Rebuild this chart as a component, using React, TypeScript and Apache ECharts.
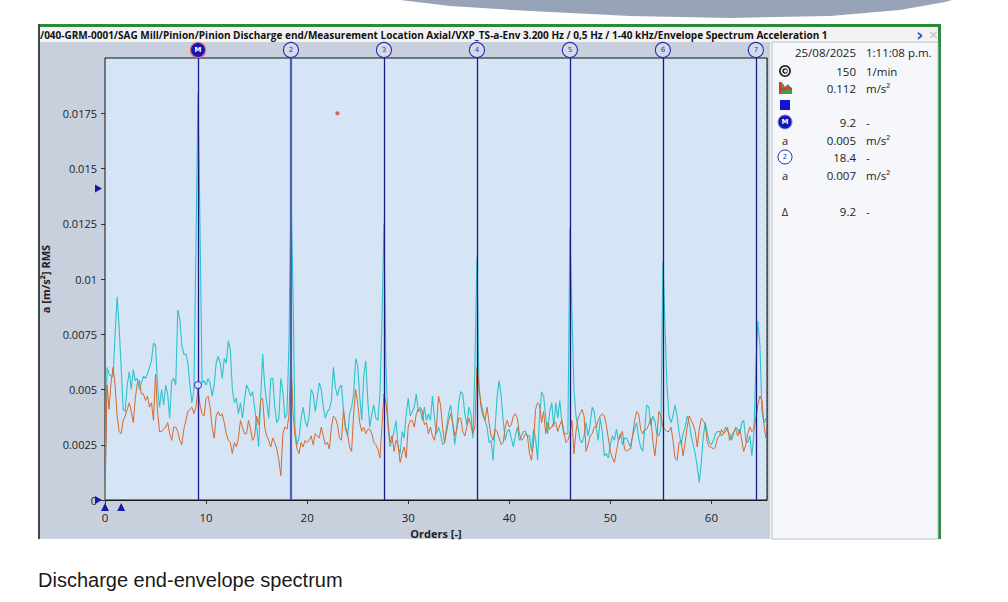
import React, { useEffect, useRef } from "react";
import * as echarts from "echarts";

const TITLE =
  "/040-GRM-0001/SAG Mill/Pinion/Pinion Discharge end/Measurement Location Axial/VXP_TS-a-Env 3.200 Hz / 0,5 Hz / 1-40 kHz/Envelope Spectrum Acceleration 1";
const CAPTION = "Discharge end-envelope spectrum";
const X_NAME = "Orders [-]";
const Y_NAME = "a [m/s²] RMS";

const ORDER_STEP = 0.2;
const X_MAX = 65.5;
const X_INTERVAL = 10;
const Y_MAX = 0.02;
const Y_INTERVAL = 0.0025;

// amplitudes in units of 1e-4 m/s², one value per 0.2 order
const cyanE4 = [
  0,
  60, 57, 56, 56, 75, 92, 78, 60, 41, 40,
  52, 58, 50, 59, 54, 55, 50, 53, 56, 55,
  57, 60, 63, 71, 70, 52, 42, 50, 43, 52,
  48, 37, 54, 55, 52, 86, 82, 70, 66, 66,
  62, 52, 44, 50, 115, 184, 125, 53, 54, 52,
  55, 53, 47, 52, 62, 65, 62, 55, 64, 62,
  72, 68, 50, 44, 46, 39, 44, 37, 45, 52,
  50, 47, 49, 42, 34, 24, 45, 66, 52, 44,
  37, 55, 55, 42, 35, 37, 55, 49, 37, 39,
  70, 141, 95, 32, 25, 28, 37, 42, 36, 33,
  38, 50, 48, 40, 46, 53, 50, 42, 37, 40,
  41, 45, 60, 51, 47, 51, 52, 40, 32, 29,
  39, 42, 48, 64, 61, 47, 36, 56, 63, 45,
  33, 39, 43, 37, 36, 48, 80, 125, 60, 34,
  24, 27, 31, 36, 24, 21, 31, 28, 39, 46,
  38, 40, 42, 48, 40, 41, 36, 42, 36, 39,
  36, 47, 37, 30, 33, 30, 25, 26, 33, 39,
  43, 35, 25, 32, 44, 49, 48, 39, 34, 42,
  39, 28, 60, 110, 50, 44, 40, 36, 33, 26,
  27, 18, 33, 47, 54, 47, 36, 27, 31, 32,
  28, 24, 29, 33, 27, 29, 31, 31, 29, 29,
  22, 32, 28, 18, 38, 49, 47, 38, 30, 40,
  44, 33, 44, 37, 45, 35, 30, 30, 30, 123,
  85, 50, 38, 33, 27, 26, 29, 35, 29, 34,
  42, 40, 33, 27, 37, 31, 20, 21, 19, 25,
  29, 27, 32, 27, 30, 25, 28, 28, 26, 24,
  29, 32, 35, 28, 24, 22, 32, 43, 42, 34,
  38, 36, 30, 29, 32, 108, 80, 52, 38, 35,
  38, 43, 38, 31, 25, 30, 33, 38, 35, 29,
  25, 21, 15, 8, 17, 29, 35, 30, 26, 25,
  27, 30, 31, 31, 29, 30, 33, 31, 30, 27,
  30, 33, 32, 30, 35, 36, 27, 26, 29, 20,
  30, 60, 81, 70, 40, 35, 37,
];

const orangeE4 = [
  0,
  52, 41, 53, 60, 52, 38, 31, 30, 36, 38,
  41, 44, 40, 35, 46, 53, 54, 48, 48, 45,
  47, 42, 44, 36, 57, 40, 31, 31, 32, 33,
  35, 30, 27, 33, 33, 31, 27, 25, 32, 36,
  40, 41, 42, 39, 42, 50, 43, 39, 38, 46,
  47, 42, 33, 28, 38, 40, 38, 39, 35, 30,
  27, 26, 21, 26, 24, 28, 36, 33, 30, 30,
  36, 32, 27, 29, 38, 34, 45, 46, 33, 29,
  27, 24, 28, 26, 23, 18, 11, 30, 33, 32,
  38, 65, 40, 29, 23, 21, 26, 24, 27, 26,
  27, 29, 25, 30, 29, 28, 33, 29, 25, 26,
  23, 33, 38, 37, 34, 28, 27, 41, 33, 30,
  24, 22, 39, 50, 44, 35, 31, 33, 30, 32,
  32, 30, 26, 25, 23, 19, 33, 48, 44, 35,
  26, 29, 22, 27, 25, 17, 21, 24, 19, 33,
  36, 36, 33, 39, 41, 42, 40, 34, 35, 30,
  33, 29, 27, 33, 47, 43, 33, 26, 31, 36,
  39, 35, 29, 32, 37, 37, 31, 29, 33, 37,
  34, 30, 33, 60, 52, 42, 38, 36, 42, 35,
  29, 27, 32, 31, 28, 25, 26, 33, 36, 33,
  34, 38, 39, 37, 30, 27, 28, 30, 29, 21,
  18, 26, 41, 44, 43, 35, 40, 30, 35, 32,
  33, 35, 35, 31, 34, 36, 31, 26, 27, 30,
  36, 21, 31, 37, 39, 41, 38, 22, 25, 29,
  30, 33, 33, 36, 38, 39, 38, 34, 28, 22,
  19, 17, 22, 27, 29, 31, 23, 22, 23, 23,
  29, 36, 40, 39, 32, 30, 32, 32, 34, 37,
  27, 20, 28, 40, 38, 33, 32, 31, 31, 33,
  27, 19, 18, 26, 27, 20, 26, 33, 38, 36,
  34, 31, 24, 32, 37, 36, 34, 26, 24, 24,
  23, 24, 28, 29, 32, 30, 31, 33, 27, 29,
  31, 32, 29, 32, 27, 22, 25, 30, 33, 31,
  32, 37, 43, 47, 45, 34, 28,
];

const harmonicOrders = [9.2, 18.4, 27.6, 36.8, 46.0, 55.2, 64.4];
const harmonicLabels = ["M", "2", "3", "4", "5", "6", "7"];
const cursorPoint = [9.2, 0.0052];
const peakDot = [23.0, 0.0175];
const yCursorValues = [0.0141, 0];
const xCursorValues = [0, 1.6];

const panelDate = "25/08/2025";
const panelTime = "1:11:08 p.m.";
const panelValues = ["150", "0.112", "", "9.2", "0.005", "18.4", "0.007", "", "9.2"];
const panelUnits = ["1/min", "m/s²", "", "-", "m/s²", "-", "m/s²", "", "-"];
const panelIcons = ["target", "spectrum", "square", "M", "a", "2", "a", "", "Δ"];

const UI_FONT = "'Open Sans', 'Noto Sans', sans-serif";

export default function App() {
  const ref = useRef<HTMLDivElement>(null);

  useEffect(() => {
    const el = ref.current;
    if (!el) return;
    const chart = echarts.init(el, null, { renderer: "svg", width: 1008, height: 602 });

    const toData = (arr: number[]) =>
      arr.map((v, i) => [Number((i * ORDER_STEP).toFixed(1)), v / 10000]);

    const gridLeft = 105;
    const gridTop = 58;
    const gridW = 662;
    const gridH = 442;

    chart.setOption({
      animation: false,
      grid: {
        left: gridLeft,
        top: gridTop,
        width: gridW,
        height: gridH,
        show: true,
        backgroundColor: "#d5e5f6",
        borderColor: "#111",
        borderWidth: 1,
        z: 1,
      },
      xAxis: {
        type: "value",
        min: 0,
        max: X_MAX,
        interval: X_INTERVAL,
        name: X_NAME,
        nameLocation: "middle",
        nameGap: 28,
        nameTextStyle: { fontFamily: UI_FONT, fontWeight: "bold", fontSize: 11, color: "#222" },
        axisLine: { show: true, lineStyle: { color: "#222", width: 1 } },
        axisTick: { show: true, length: 4, lineStyle: { color: "#333" } },
        axisLabel: {
          showMaxLabel: false,
          margin: 11,
          fontFamily: UI_FONT,
          fontSize: 11.5,
          color: "#222",
        },
        splitLine: { show: true, lineStyle: { color: "#505860", type: "dotted", width: 1 } },
      },
      yAxis: {
        type: "value",
        min: 0,
        max: Y_MAX,
        interval: Y_INTERVAL,
        name: Y_NAME,
        nameLocation: "middle",
        nameGap: 54,
        nameRotate: 90,
        nameTextStyle: { fontFamily: UI_FONT, fontWeight: "bold", fontSize: 11, color: "#222" },
        axisLine: { show: true, lineStyle: { color: "#111", width: 1 } },
        axisTick: { show: true, length: 4, lineStyle: { color: "#333" } },
        axisLabel: {
          showMaxLabel: false,
          margin: 8,
          fontFamily: UI_FONT,
          fontSize: 11,
          color: "#222",
          formatter: (v: number) => (v === 0 ? "0" : String(Number(v.toFixed(4)))),
        },
        splitLine: { show: true, lineStyle: { color: "#505860", type: "dotted", width: 1 } },
      },
      series: [
        {
          type: "line",
          name: "cyan",
          data: toData(cyanE4),
          showSymbol: false,
          symbol: "none",
          lineStyle: { color: "#2fc2c8", width: 1.1 },
          z: 3,
          markLine: {
            silent: true,
            symbol: "none",
            label: { show: false },
            data: harmonicOrders.map((o, k) => ({
              xAxis: o,
              lineStyle:
                k === 1
                  ? { color: "#4b63b2", width: 2.2, type: "solid" }
                  : { color: "#1a1a82", width: 1.3, type: "solid" },
            })),
          },
        },
        {
          type: "line",
          name: "orange",
          data: toData(orangeE4),
          showSymbol: false,
          symbol: "none",
          lineStyle: { color: "#d7682d", width: 1 },
          z: 4,
        },
        {
          type: "scatter",
          data: [cursorPoint],
          symbol: "circle",
          symbolSize: 7,
          itemStyle: { color: "#e8eefc", borderColor: "#2a2ad0", borderWidth: 1.2 },
          z: 6,
        },
        {
          type: "scatter",
          data: [peakDot],
          symbol: "circle",
          symbolSize: 4,
          itemStyle: { color: "#d23c3c" },
          z: 6,
        },
      ],
    });

    const g: any[] = [];
    // top decoration swoosh
    g.push({
      type: "polygon",
      z: -10,
      shape: {
        points: [
          [400, 0], [450, 6], [530, 11], [630, 16], [730, 18], [830, 16], [900, 10], [945, 2], [952, 0],
        ],
      },
      style: { fill: "#97a3b6" },
    });
    // frame
    g.push({ type: "rect", z: -10, shape: { x: 38, y: 24, width: 903, height: 515 }, style: { fill: "#f3f3f3" } });
    g.push({ type: "rect", z: -9, shape: { x: 38, y: 24, width: 903, height: 3 }, style: { fill: "#2c8a3a" } });
    g.push({ type: "rect", z: -9, shape: { x: 938, y: 24, width: 3, height: 515 }, style: { fill: "#2c8a3a" } });
    g.push({ type: "rect", z: -9, shape: { x: 38, y: 24, width: 2, height: 515 }, style: { fill: "#3a4a44" } });
    // chart background
    g.push({ type: "rect", z: -8, shape: { x: 40, y: 42, width: 730, height: 497 }, style: { fill: "#c8d0dd" } });
    // right info panel
    g.push({
      type: "rect",
      z: -8,
      shape: { x: 772, y: 42, width: 166, height: 497 },
      style: { fill: "#f5f7fa", stroke: "#b9c0ca", lineWidth: 1 },
    });
    // title
    g.push({
      type: "text",
      z: 5,
      x: 40,
      y: 35,
      style: {
        text: TITLE,
        font: "bold 10px 'Open Sans', 'Noto Sans', sans-serif",
        fill: "#111",
        textVerticalAlign: "middle",
      },
    });
    g.push({
      type: "text",
      z: 5,
      x: 916,
      y: 34,
      style: { text: "›", font: "bold 18px 'DejaVu Sans', sans-serif", fill: "#2a4fc8", textVerticalAlign: "middle" },
    });
    g.push({
      type: "text",
      z: 5,
      x: 928,
      y: 34,
      style: { text: "×", font: "13px 'DejaVu Sans', sans-serif", fill: "#b5bcc6", textVerticalAlign: "middle" },
    });
    // caption
    g.push({
      type: "text",
      z: 5,
      x: 38,
      y: 580,
      style: {
        text: CAPTION,
        font: "20px 'Liberation Sans', Arial, sans-serif",
        fill: "#1a1a1a",
        textVerticalAlign: "middle",
      },
    });

    // harmonic marker circles
    harmonicOrders.forEach((o, k) => {
      const px = chart.convertToPixel({ xAxisIndex: 0 }, o) as number;
      const isM = k === 0;
      g.push({
        type: "circle",
        z: 10,
        shape: { cx: px, cy: 50, r: 7.5 },
        style: isM
          ? { fill: "#1515b8", stroke: "#e06a6a", lineWidth: 1.3 }
          : { fill: "rgba(235,240,250,0.35)", stroke: "#2a2ab8", lineWidth: 1.1 },
      });
      g.push({
        type: "text",
        z: 11,
        x: px,
        y: 50,
        style: {
          text: harmonicLabels[k],
          font: (isM ? "bold " : "") + "7px 'DejaVu Sans', sans-serif",
          fill: isM ? "#ffffff" : "#3030c0",
          textAlign: "center",
          textVerticalAlign: "middle",
        },
      });
    });

    // y cursor triangles
    yCursorValues.forEach((v) => {
      const py = chart.convertToPixel({ yAxisIndex: 0 }, v) as number;
      g.push({
        type: "polygon",
        z: 10,
        shape: { points: [[95, py - 4], [102, py], [95, py + 4]] },
        style: { fill: "#1a1aa0" },
      });
    });
    // x cursor triangles
    xCursorValues.forEach((v) => {
      const px = chart.convertToPixel({ xAxisIndex: 0 }, v) as number;
      g.push({
        type: "polygon",
        z: 10,
        shape: { points: [[px - 4, 511], [px, 503], [px + 4, 511]] },
        style: { fill: "#1a1aa0" },
      });
    });

    // info panel texts
    const valueX = 856;
    const unitX = 866;
    const iconX = 785;
    const txt = (text: string, x: number, y: number, align: string, extra: any = {}) => ({
      type: "text",
      z: 5,
      x,
      y,
      style: {
        text,
        font: "11.5px 'Open Sans', 'Noto Sans', sans-serif",
        fill: "#222",
        textAlign: align,
        textVerticalAlign: "middle",
        ...extra,
      },
    });
    g.push(txt(panelDate, valueX, 52, "right"));
    g.push(txt(panelTime, unitX, 52, "left"));
    const rowY = [71, 88, 105, 122, 140, 157, 175, 193, 211];
    panelValues.forEach((val, i) => {
      const y = rowY[i];
      if (val) g.push(txt(val, valueX, y, "right"));
      if (panelUnits[i]) g.push(txt(panelUnits[i], unitX, y, "left"));
      const ic = panelIcons[i];
      if (ic === "target") {
        g.push({ type: "circle", z: 5, shape: { cx: iconX, cy: y, r: 6 }, style: { fill: "#2a2a2a" } });
        g.push({ type: "circle", z: 6, shape: { cx: iconX, cy: y, r: 3.5 }, style: { fill: "none", stroke: "#fff", lineWidth: 1.4 } });
        g.push({ type: "circle", z: 6, shape: { cx: iconX + 0.5, cy: y, r: 1.5 }, style: { fill: "#fff" } });
      } else if (ic === "spectrum") {
        g.push({
          type: "polygon",
          z: 5,
          shape: { points: [[iconX - 6, y + 6], [iconX - 6, y - 3], [iconX - 3, y - 6], [iconX, y - 1], [iconX + 3, y - 4], [iconX + 7, y + 1], [iconX + 7, y + 6]] },
          style: { fill: "#3aa346" },
        });
        g.push({
          type: "polygon",
          z: 6,
          shape: { points: [[iconX - 6, y - 6], [iconX - 4, y - 6], [iconX - 4, y + 6], [iconX - 6, y + 6]] },
          style: { fill: "#d33" },
        });
        g.push({
          type: "polyline",
          z: 6,
          shape: { points: [[iconX - 5, y], [iconX - 1, y + 2], [iconX + 2, y - 1], [iconX + 7, y + 1]] },
          style: { stroke: "#d33", lineWidth: 2, fill: "none" },
        });
      } else if (ic === "square") {
        g.push({ type: "rect", z: 5, shape: { x: iconX - 5, y: y - 5, width: 10, height: 10 }, style: { fill: "#1414d0" } });
      } else if (ic === "M") {
        g.push({ type: "circle", z: 5, shape: { cx: iconX, cy: y, r: 7 }, style: { fill: "#1515b8", stroke: "#8a90c8", lineWidth: 1 } });
        g.push({
          type: "text",
          z: 6,
          x: iconX,
          y,
          style: { text: "M", font: "bold 7px 'DejaVu Sans', sans-serif", fill: "#fff", textAlign: "center", textVerticalAlign: "middle" },
        });
      } else if (ic === "2") {
        g.push({ type: "circle", z: 5, shape: { cx: iconX, cy: y, r: 7 }, style: { fill: "#fff", stroke: "#2a2ab8", lineWidth: 1 } });
        g.push({
          type: "text",
          z: 6,
          x: iconX,
          y,
          style: { text: "2", font: "7px 'DejaVu Sans', sans-serif", fill: "#3030c0", textAlign: "center", textVerticalAlign: "middle" },
        });
      } else if (ic) {
        g.push(txt(ic, iconX, y, "center", { font: "11px 'Open Sans', 'Noto Sans', sans-serif" }));
      }
    });

    chart.setOption({ graphic: g });

    return () => chart.dispose();
  }, []);

  return (
    <div
      ref={ref}
      style={{ position: "fixed", left: 0, top: 0, width: 1008, height: 602, background: "#ffffff" }}
    />
  );
}
